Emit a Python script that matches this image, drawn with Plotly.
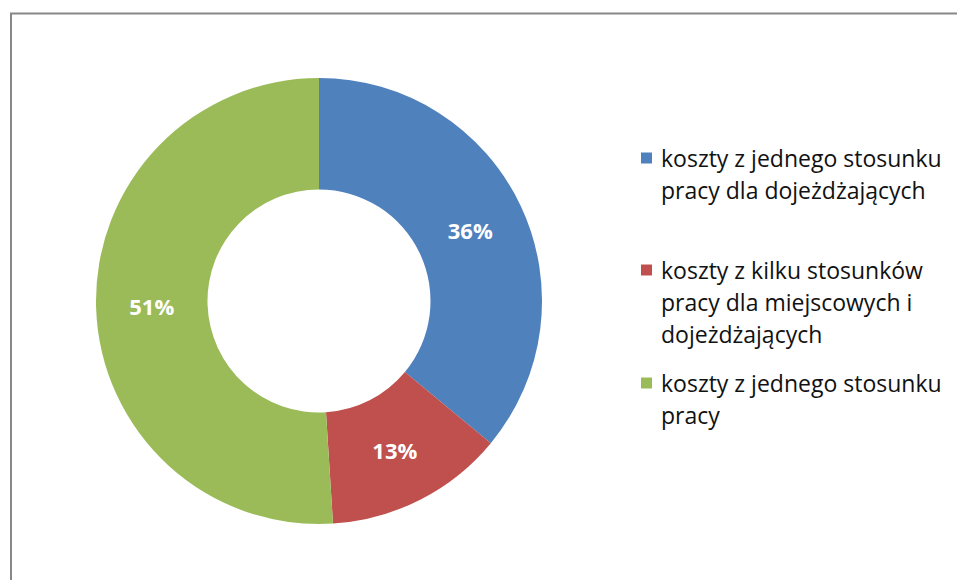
import plotly.graph_objects as go

W, H = 957, 580

# Share of costs by type of employment relationship
categories = [
    "koszty z jednego stosunku pracy dla dojeżdżających",
    "koszty z kilku stosunków pracy dla miejscowych i dojeżdżających",
    "koszty z jednego stosunku pracy",
]
legend_lines = [
    ["koszty z jednego stosunku", "pracy dla dojeżdżających"],
    ["koszty z kilku stosunków", "pracy dla miejscowych i", "dojeżdżających"],
    ["koszty z jednego stosunku", "pracy"],
]
values = [36, 13, 51]
colors = ["#4F81BD", "#C0504D", "#9BBB59"]

FONT = "Open Sans"

fig = go.Figure()
fig.add_trace(go.Pie(
    labels=categories,
    values=values,
    hole=0.5,
    sort=False,
    direction="clockwise",
    rotation=0,
    marker=dict(colors=colors, line=dict(width=0)),
    textinfo="percent",
    texttemplate="%{percent:.0%}",
    textposition="inside",
    insidetextorientation="horizontal",
    textfont=dict(family=FONT, size=22, color="white", weight="bold"),
    domain=dict(x=[96 / W, 542 / W], y=[1 - 524 / H, 1 - 78 / H]),
    showlegend=False,
    hoverinfo="label+percent",
))

# Hand-laid legend: square swatch + wrapped label lines
shapes = []
annotations = []
item_tops = [158, 270, 383]
line_gap = 32
for color, lines, yc in zip(colors, legend_lines, item_tops):
    shapes.append(dict(
        type="rect", xref="paper", yref="paper",
        x0=641 / W, x1=652 / W,
        y0=1 - (yc + 5.5) / H, y1=1 - (yc - 5.5) / H,
        fillcolor=color, line=dict(width=0),
    ))
    for i, txt in enumerate(lines):
        annotations.append(dict(
            xref="paper", yref="paper",
            x=659 / W, y=1 - (yc + i * line_gap) / H,
            xanchor="left", yanchor="middle",
            text=txt, showarrow=False,
            font=dict(family=FONT, size=23, color="#111111"),
        ))

# Chart-area frame (top and left edges)
shapes.append(dict(type="line", xref="paper", yref="paper",
                   x0=10 / W, x1=1.0, y0=1 - 13.5 / H, y1=1 - 13.5 / H,
                   line=dict(color="#888888", width=2)))
shapes.append(dict(type="line", xref="paper", yref="paper",
                   x0=11 / W, x1=11 / W, y0=1 - 13 / H, y1=0,
                   line=dict(color="#888888", width=2)))

fig.update_layout(
    width=W, height=H,
    margin=dict(l=0, r=0, t=0, b=0),
    paper_bgcolor="white",
    plot_bgcolor="white",
    shapes=shapes,
    annotations=annotations,
)

fig.write_html("out.html")
